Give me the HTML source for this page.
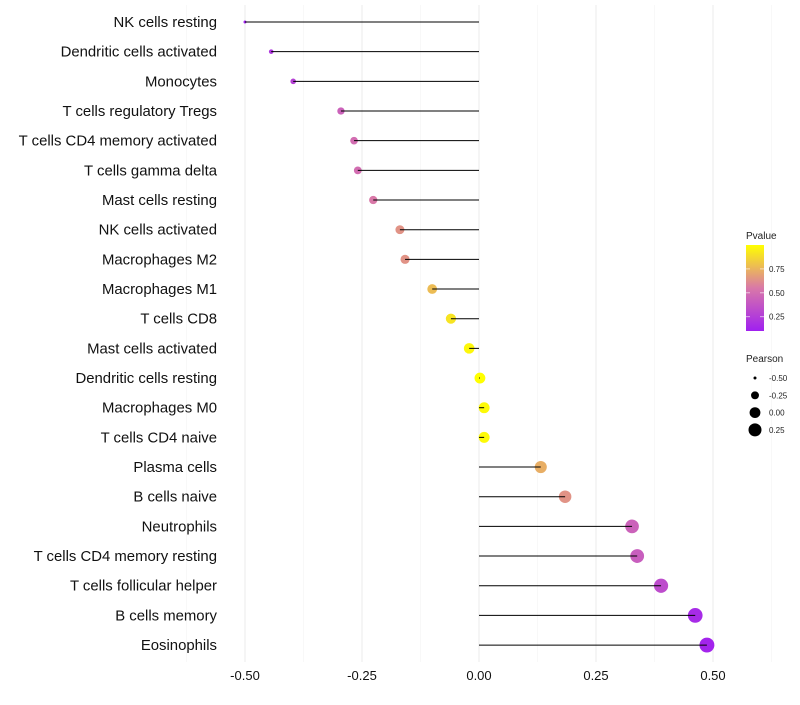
<!DOCTYPE html>
<html><head><meta charset="utf-8"><style>
body{margin:0;background:#fff;font-family:"Liberation Sans",sans-serif;}
</style></head><body>
<svg id="chart" width="800" height="700" xmlns="http://www.w3.org/2000/svg" font-family="Liberation Sans, sans-serif">
<defs><linearGradient id="grad" x1="0" y1="1" x2="0" y2="0">
<stop offset="0" stop-color="#a020f0"/><stop offset="0.5" stop-color="#d978a8"/><stop offset="1" stop-color="#ffff00"/></linearGradient></defs>
<g id="grid"></g><g id="marks"></g><g id="labels"></g><g id="legend"></g>
</svg>
<script>
const categories=["NK cells resting","Dendritic cells activated","Monocytes","T cells regulatory  Tregs","T cells CD4 memory activated","T cells gamma delta","Mast cells resting","NK cells activated","Macrophages M2","Macrophages M1","T cells CD8","Mast cells activated","Dendritic cells resting","Macrophages M0","T cells CD4 naive","Plasma cells","B cells naive","Neutrophils","T cells CD4 memory resting","T cells follicular helper","B cells memory","Eosinophils"];
const pearson=[-0.50,-0.444,-0.397,-0.295,-0.267,-0.259,-0.226,-0.169,-0.158,-0.100,-0.060,-0.021,0.002,0.011,0.011,0.132,0.184,0.327,0.338,0.389,0.462,0.487];
const pvalue=[0.10,0.20,0.25,0.40,0.45,0.45,0.50,0.60,0.60,0.75,0.90,0.97,1.0,0.98,0.98,0.70,0.60,0.40,0.38,0.30,0.15,0.12];
const xTicks=[-0.5,-0.25,0,0.25,0.5];
const xTickLabels=["-0.50","-0.25","0.00","0.25","0.50"];
const pTicks=[0.25,0.5,0.75];
const sizeTicks=[-0.5,-0.25,0,0.25];

const NS="http://www.w3.org/2000/svg";
const x=v=>479+v*468;
const y=i=>22+i*29.67;
const r=v=>Math.sqrt(2.25+54*(v+0.5));
const pc=p=>{const stops=[[0.1,[160,32,240]],[0.5,[217,120,168]],[1.0,[255,255,0]]];p=Math.max(0.1,Math.min(1,p));
for(let k=0;k<stops.length-1;k++){const a=stops[k],b=stops[k+1];if(p<=b[0]){const t=(p-a[0])/(b[0]-a[0]);return `rgb(${a[1].map((c,j)=>Math.round(c+(b[1][j]-c)*t)).join(',')})`;}}};
function el(tag,attrs,parent,text){const e=document.createElementNS(NS,tag);for(const k in attrs)e.setAttribute(k,attrs[k]);if(text!=null)e.textContent=text;parent.appendChild(e);return e;}
const grid=document.getElementById('grid'),marks=document.getElementById('marks'),labels=document.getElementById('labels'),legend=document.getElementById('legend');
for(let v=-0.625;v<=0.626;v+=0.125){const major=Math.abs(v*4-Math.round(v*4))<1e-6;
const g=el('line',{x1:x(v),x2:x(v),y1:5,y2:662,stroke:major?'#ebebeb':'#f4f4f4','stroke-width':major?1:0.6},grid);

}
xTicks.forEach((v,i)=>{const t=el('text',{x:x(v),y:680,'text-anchor':'middle','font-size':13,fill:'#111'},labels,xTickLabels[i]);

});
categories.forEach((c,i)=>{
const t=el('text',{x:217,y:y(i)+5,'text-anchor':'end','font-size':14.9,fill:'#111'},labels,c);


const p=el('circle',{cx:x(pearson[i]),cy:y(i),r:r(pearson[i]),fill:pc(pvalue[i])},marks);


const l=el('line',{x1:x(0),x2:x(pearson[i]),y1:y(i),y2:y(i),stroke:'#000','stroke-width':1},marks);


});
let tt=el('text',{x:746,y:239,'font-size':10,fill:'#222'},legend,'Pvalue');


const bar=el('rect',{x:746,y:245,width:18,height:86,fill:'url(#grad)'},legend);


pTicks.forEach(p=>{const yy=331-(p-0.1)/0.9*86;
el('line',{x1:746,x2:750,y1:yy,y2:yy,stroke:'#fff','stroke-opacity':0.6},legend);
el('line',{x1:760,x2:764,y1:yy,y2:yy,stroke:'#fff','stroke-opacity':0.6},legend);
const t=el('text',{x:769,y:yy+3,'font-size':8,fill:'#222'},legend,p.toFixed(2));

});
tt=el('text',{x:746,y:362,'font-size':10,fill:'#222'},legend,'Pearson');


sizeTicks.forEach((v,i)=>{const yy=378+i*17.3;
const c=el('circle',{cx:755,cy:yy,r:Math.min(6.5,r(v)),fill:'#000'},legend);


const t=el('text',{x:769,y:yy+3,'font-size':8,fill:'#222'},legend,v.toFixed(2));

});
</script>
</body></html>
